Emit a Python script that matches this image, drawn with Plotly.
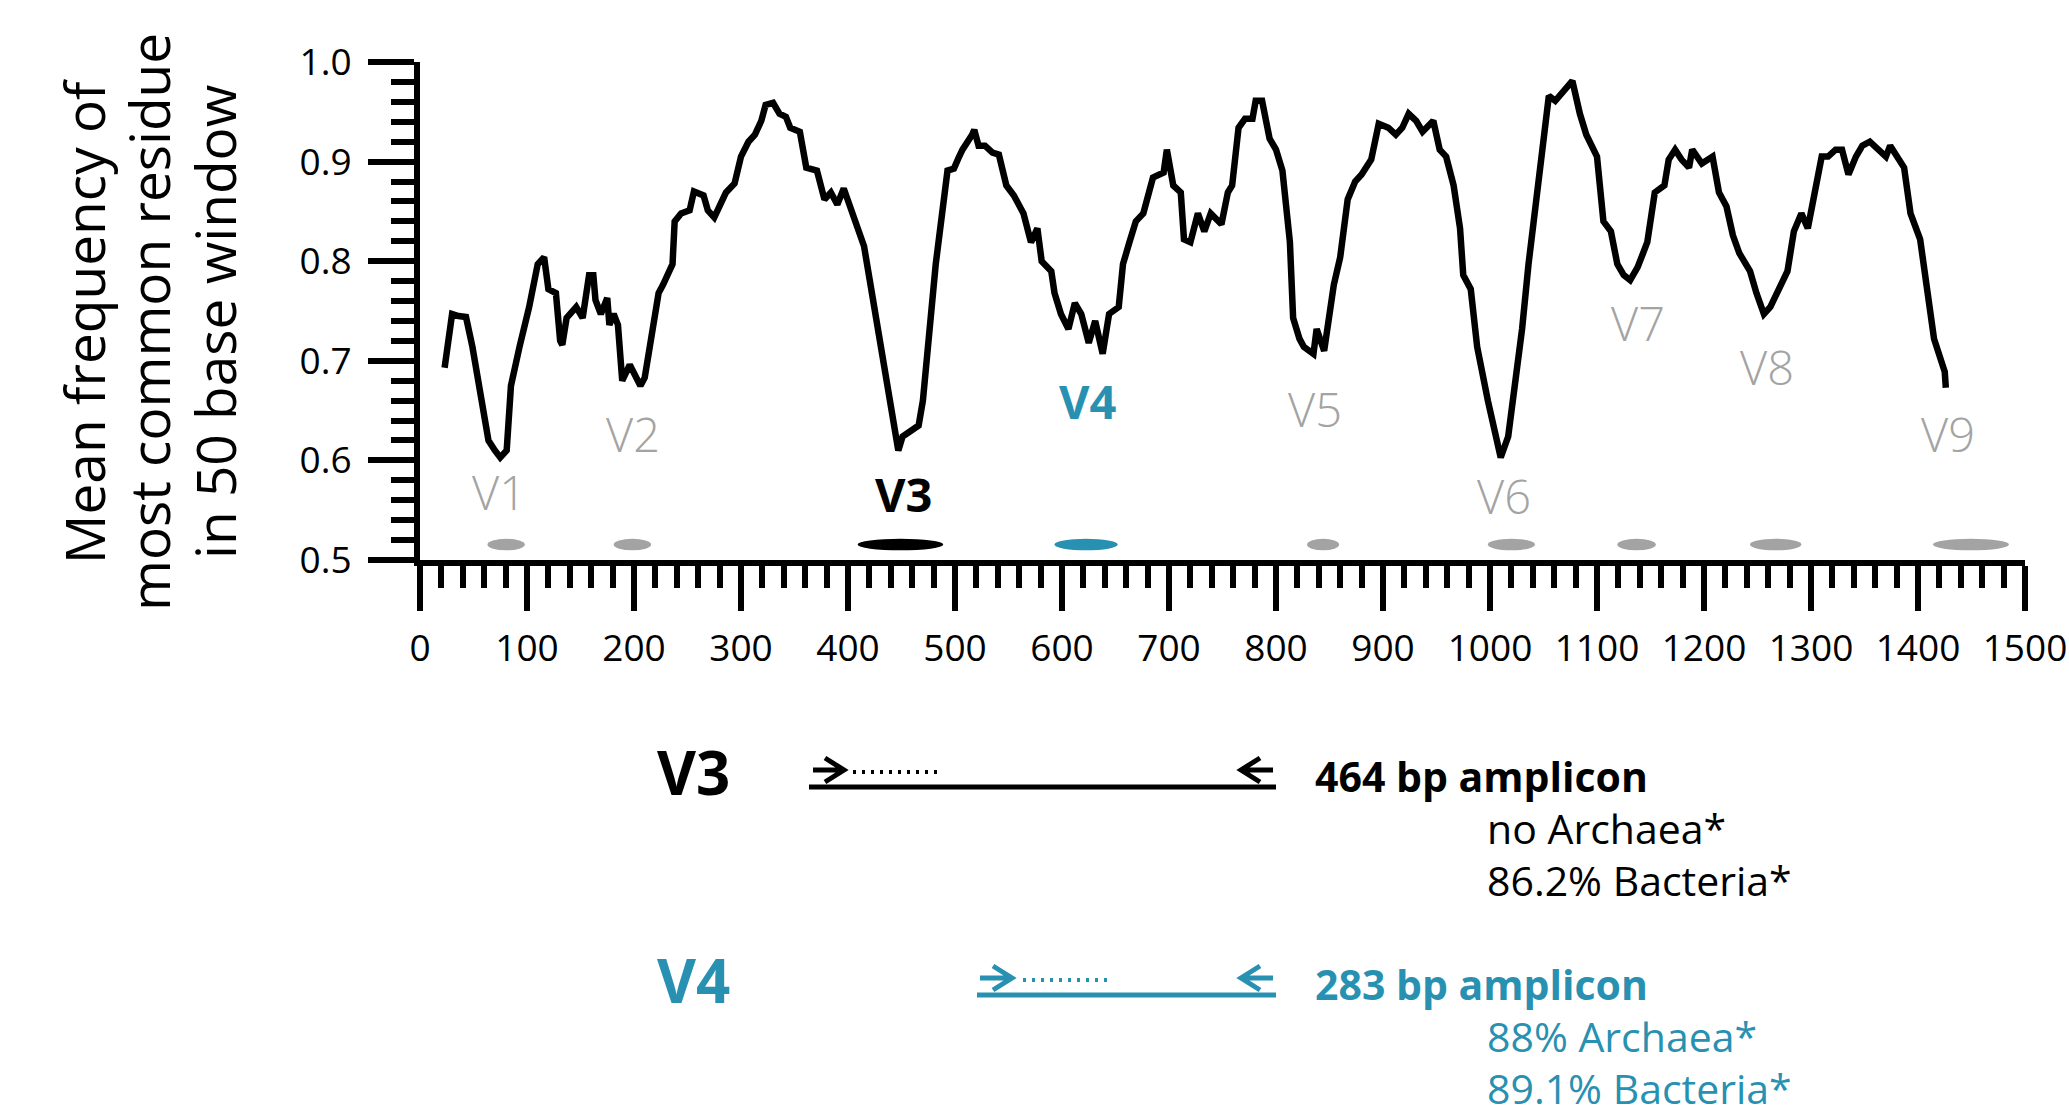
import plotly.graph_objects as go

# ---------------- data ----------------
position = [23, 30, 36, 43, 49, 58, 64, 70, 75, 81, 85, 93, 102, 110, 116, 120, 127, 131, 133, 137,
            146, 152, 158, 162, 164, 169, 175, 177, 181, 185, 189, 196, 202, 206, 210, 215, 223, 227,
            236, 238, 244, 252, 256, 265, 269, 275, 282, 286, 294, 300, 307, 313, 319, 323, 330, 336,
            342, 346, 355, 361, 371, 378, 384, 390, 396, 403, 409, 415, 420, 428, 438, 445, 447, 451,
            466, 470, 482, 493, 499, 503, 507, 516, 518, 522, 528, 535, 541,
            548, 555, 564, 571, 577, 581, 590, 593, 599, 606, 612, 618, 625, 631, 638, 644, 653, 657,
            663, 669, 676, 679, 685, 695, 698, 704, 711, 714, 720, 727, 733, 739, 749, 755, 759, 765,
            771, 778, 781, 787, 794, 800, 806, 813, 816, 822, 826, 835, 838, 845, 854, 860, 867, 874,
            880, 889, 896, 905, 912, 918, 924, 931, 937, 947, 953, 959, 966, 972, 975, 982, 988, 998,
            1007, 1010, 1017, 1023, 1030, 1036, 1045, 1055, 1061, 1068, 1077, 1084, 1090, 1100, 1106,
            1113, 1119, 1125, 1131, 1138, 1147, 1154, 1163, 1167, 1173, 1179, 1186, 1189, 1198, 1208,
            1214, 1221, 1227, 1233, 1243, 1249, 1256, 1262, 1272, 1278, 1284, 1291, 1297, 1304, 1310,
            1316, 1323, 1329, 1335, 1342, 1348, 1355, 1364, 1370, 1374, 1380, 1387, 1393, 1402, 1409,
            1415, 1425, 1426]
mean_freq = [0.693, 0.747, 0.745, 0.744, 0.714, 0.660, 0.620, 0.610, 0.603, 0.610, 0.675, 0.714, 0.754,
             0.797, 0.804, 0.772, 0.768, 0.720, 0.716, 0.743, 0.754, 0.743, 0.786, 0.786, 0.761, 0.747,
             0.763, 0.736, 0.747, 0.736, 0.680, 0.696, 0.684, 0.675, 0.683, 0.714, 0.768, 0.776, 0.797,
             0.840, 0.848, 0.851, 0.870, 0.866, 0.851, 0.844, 0.858, 0.869, 0.878, 0.905, 0.920, 0.927,
             0.941, 0.957, 0.959, 0.948, 0.945, 0.934, 0.930, 0.894, 0.891, 0.862, 0.869, 0.857, 0.873,
             0.851, 0.837, 0.815, 0.783, 0.732, 0.668, 0.628, 0.610, 0.624, 0.635, 0.660, 0.797, 0.891,
             0.893, 0.903, 0.912, 0.927, 0.932, 0.916, 0.916, 0.909, 0.907,
             0.876, 0.866, 0.848, 0.819, 0.833, 0.800, 0.790, 0.768, 0.747, 0.732, 0.758, 0.747, 0.718,
             0.740, 0.707, 0.747, 0.754, 0.797, 0.819, 0.840, 0.848, 0.862, 0.884, 0.889, 0.912, 0.876,
             0.869, 0.822, 0.819, 0.848, 0.830, 0.848, 0.837, 0.869, 0.876, 0.934, 0.943, 0.943, 0.961,
             0.961, 0.923, 0.912, 0.891, 0.819, 0.743, 0.722, 0.714, 0.707, 0.732, 0.710, 0.776, 0.804,
             0.862, 0.880, 0.887, 0.902, 0.938, 0.934, 0.927, 0.934, 0.948, 0.941, 0.930, 0.941, 0.912,
             0.905, 0.876, 0.833, 0.786, 0.772, 0.714, 0.660, 0.620, 0.603, 0.624, 0.675, 0.732, 0.797,
             0.876, 0.966, 0.961, 0.970, 0.981, 0.948, 0.927, 0.905, 0.840, 0.830, 0.797, 0.786, 0.781,
             0.794, 0.819, 0.869, 0.876, 0.902, 0.912, 0.902, 0.894, 0.912, 0.898, 0.905, 0.869, 0.855,
             0.826, 0.808, 0.790, 0.768, 0.747, 0.754, 0.776, 0.790, 0.830, 0.848, 0.833, 0.869, 0.905,
             0.905, 0.912, 0.912, 0.887, 0.905, 0.916, 0.920, 0.912, 0.905, 0.916, 0.905, 0.894, 0.848,
             0.822, 0.768, 0.722, 0.689, 0.673]

region_names = ["V1", "V2", "V3", "V4", "V5", "V6", "V7", "V8", "V9"]
region_start = [63, 181, 409, 593, 829, 998, 1119, 1243, 1414]
region_end = [98, 216, 489, 652, 859, 1042, 1155, 1291, 1485]
label_x = [74, 199, 452, 624, 836, 1013, 1138, 1259, 1428]
label_y = [0.5685, 0.627, 0.566, 0.660, 0.652, 0.564, 0.738, 0.694, 0.627]

ytitle_lines = ["Mean frequency of", "most common residue", "in 50 base window"]

amplicon_names = ["V3", "V4"]
amplicon_sizes = ["464 bp amplicon", "283 bp amplicon"]
amplicon_archaea = ["no Archaea*", "88% Archaea*"]
amplicon_bacteria = ["86.2% Bacteria*", "89.1% Bacteria*"]

# ---------------- styles ----------------
BLACK = "#000000"
GRAY = "#a3a3a3"
TEAL = "#2891b2"
FONT = "Open Sans, DejaVu Sans, sans-serif"

region_colors = [GRAY, GRAY, BLACK, TEAL, GRAY, GRAY, GRAY, GRAY, GRAY]

W, H = 2069, 1106
L, R, T, B = 420, 44, 62, 546
PW = W - L - R
PH = H - T - B
X0, X1 = 0, 1500


def px_to_x(px):
    return (px - L) / PW * (X1 - X0) + X0


def px_to_paperx(px):
    return (px - L) / PW


def py_to_paper(py):
    return (H - B - py) / PH


fig = go.Figure()
fig.add_trace(go.Scatter(x=position, y=mean_freq, mode="lines",
                         line=dict(color=BLACK, width=6.5), hoverinfo="skip",
                         showlegend=False))

shapes = []
annotations = []

# variable region markers + labels
for i, name in enumerate(region_names):
    col = region_colors[i]
    shapes.append(dict(type="circle", xref="x", yref="y",
                       x0=region_start[i], x1=region_end[i], y0=0.5097, y1=0.5213,
                       fillcolor=col, line=dict(width=0), layer="above"))
    bold = name in ("V3", "V4")
    annotations.append(dict(x=label_x[i], y=label_y[i], xref="x", yref="y",
                            text=name, showarrow=False, xanchor="center", yanchor="middle",
                            font=dict(family=FONT, size=47, color=col,
                                      weight=700 if bold else 300)))

# y-axis title (three rotated lines)
for j, (line, cx) in enumerate(zip(ytitle_lines, (83, 148, 214))):
    annotations.append(dict(x=px_to_paperx(cx), y=py_to_paper(322), xref="paper", yref="paper",
                            text=line, textangle=-90, showarrow=False,
                            xanchor="center", yanchor="middle",
                            font=dict(family=FONT, size=55, color=BLACK)))

# amplicon schematic
amp_rows = [
    dict(color=BLACK, yc=770, yline=787, ystart=809, fwd_tail=813, fwd_tip=844,
         dot0=853, dot1=937),
    dict(color=TEAL, yc=978, yline=995, ystart=977, fwd_tail=980, fwd_tip=1012,
         dot0=1023, dot1=1108),
]
for k, row in enumerate(amp_rows):
    c = row["color"]
    yc = row["yc"]
    annotations.append(dict(x=px_to_x(693), y=py_to_paper(yc + 2), xref="x", yref="paper",
                            text=amplicon_names[k], showarrow=False, xanchor="center",
                            yanchor="middle", font=dict(family=FONT, size=60, color=c, weight=700)))
    annotations.append(dict(x=px_to_x(1313), y=py_to_paper(yc + 6), xref="x", yref="paper",
                            text=amplicon_sizes[k], showarrow=False, xanchor="left",
                            yanchor="middle", font=dict(family=FONT, size=41, color=c, weight=700)))
    annotations.append(dict(x=px_to_x(1485), y=py_to_paper(yc + 58), xref="x", yref="paper",
                            text=amplicon_archaea[k], showarrow=False, xanchor="left",
                            yanchor="middle", font=dict(family=FONT, size=41, color=c)))
    annotations.append(dict(x=px_to_x(1485), y=py_to_paper(yc + 110), xref="x", yref="paper",
                            text=amplicon_bacteria[k], showarrow=False, xanchor="left",
                            yanchor="middle", font=dict(family=FONT, size=41, color=c)))
    # amplicon line
    shapes.append(dict(type="line", xref="x", yref="paper",
                       x0=px_to_x(row["ystart"]), x1=px_to_x(1276),
                       y0=py_to_paper(row["yline"]), y1=py_to_paper(row["yline"]),
                       line=dict(color=c, width=5)))
    # dotted read
    shapes.append(dict(type="line", xref="x", yref="paper",
                       x0=px_to_x(row["dot0"]), x1=px_to_x(row["dot1"]),
                       y0=py_to_paper(yc + 2), y1=py_to_paper(yc + 2),
                       line=dict(color=c, width=4, dash="3px,6px")))
    # arrows (forward and reverse primers)
    for tail, tip in ((row["fwd_tail"], row["fwd_tip"]), (1273, 1241)):
        d = 1 if tip > tail else -1
        back = tip - d * 19
        path = ("M {a},{y} L {b},{y} M {c},{u} L {b},{y} L {c},{l}"
                .format(a=px_to_x(tail), b=px_to_x(tip), c=px_to_x(back),
                        y=py_to_paper(yc), u=py_to_paper(yc - 12), l=py_to_paper(yc + 12)))
        shapes.append(dict(type="path", xref="x", yref="paper", path=path,
                           line=dict(color=c, width=5)))

fig.update_layout(
    width=W, height=H,
    margin=dict(l=L, r=R, t=T, b=B, pad=0, autoexpand=False),
    paper_bgcolor="white", plot_bgcolor="white",
    showlegend=False,
    shapes=shapes,
    annotations=annotations,
    xaxis=dict(range=[X0, X1], showgrid=False, zeroline=False, showline=True, automargin=False,
               linecolor=BLACK, linewidth=6, ticks="outside", ticklen=45, tickwidth=6,
               tickcolor=BLACK, dtick=100, tick0=0,
               tickfont=dict(family=FONT, size=37, color=BLACK), ticklabelstandoff=6,
               minor=dict(ticks="outside", ticklen=22, tickwidth=6, tickcolor=BLACK,
                          dtick=20, showgrid=False)),
    yaxis=dict(range=[0.5, 1.0], showgrid=False, zeroline=False, showline=True, automargin=False,
               linecolor=BLACK, linewidth=6, ticks="outside", ticklen=46, tickwidth=6,
               tickcolor=BLACK, dtick=0.1, tick0=0.5, tickformat=".1f",
               tickfont=dict(family=FONT, size=37, color=BLACK), ticklabelstandoff=9,
               minor=dict(ticks="outside", ticklen=23, tickwidth=6, tickcolor=BLACK,
                          dtick=0.02, showgrid=False)),
)

fig.write_html("out.html", config={"displayModeBar": False},
               post_script="document.body.style.margin='0';document.body.style.overflow='hidden';")
